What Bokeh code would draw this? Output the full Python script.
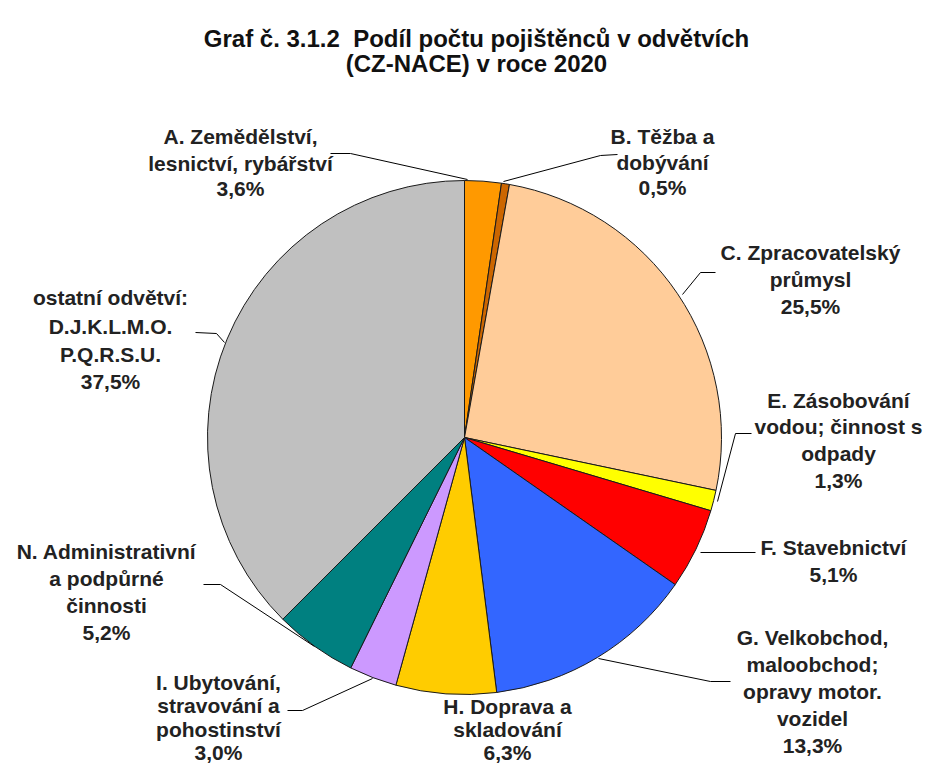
import math
from bokeh.plotting import figure
from bokeh.models import Range1d, ColumnDataSource
from bokeh.embed import file_html
from bokeh.resources import INLINE
from bokeh.core.properties import value

# ---------------- data ----------------
title_lines = ["Graf č. 3.1.2\u00a0\u00a0Podíl počtu pojištěnců v odvětvích",
               "(CZ-NACE) v roce 2020"]

categories = ["A", "B", "C", "E", "F", "G", "H", "I", "N", "ostatní"]
# slice sizes as drawn in the picture (A is drawn at ~2.3 % although labelled 3,6 %)
shares = [2.3, 0.5, 25.5, 1.3, 5.1, 13.3, 6.3, 3.0, 5.2, 37.5]
share_labels = ["3,6%", "0,5%", "25,5%", "1,3%", "5,1%", "13,3%", "6,3%", "3,0%", "5,2%", "37,5%"]
name_lines = [
    ["A. Zemědělství,", "lesnictví, rybářství"],
    ["B. Těžba a", "dobývání"],
    ["C. Zpracovatelský", "průmysl"],
    ["E. Zásobování", "vodou; činnost s", "odpady"],
    ["F. Stavebnictví"],
    ["G. Velkobchod,", "maloobchod;", "opravy motor.", "vozidel"],
    ["H. Doprava a", "skladování"],
    ["I. Ubytování,", "stravování a", "pohostinství"],
    ["N. Administrativní", "a podpůrné", "činnosti"],
    ["ostatní odvětví:", "D.J.K.L.M.O.", "P.Q.R.S.U."],
]
colors = ["#FF9900", "#CC6600", "#FFCC99", "#FFFF00", "#FF0000",
          "#3366FF", "#FFCC00", "#CC99FF", "#008080", "#C0C0C0"]

# ---------------- layout (picture pixel coordinates) ----------------
W, H = 927, 766
DY = -6  # shift of the pie block so the bottom labels stay inside
def Y(py):
    return H - py

CX, CY, R = 464, 443 + DY, 257
label_x = [240, 662, 810, 838, 833, 812, 507, 218, 106, 110]
label_base = [
    [142, 169, 194],
    [142, 168, 193],
    [258, 285, 312],
    [406, 432, 459, 486],
    [553, 580],
    [643, 670, 697, 724, 751],
    [712, 735, 758],
    [688, 711, 735, 758],
    [557, 584, 611, 638],
    [303, 332, 360, 387],
]
leaders = [
    [(330, 159), (350, 159), (467, 185)],
    [(617, 160), (600, 161), (503, 187)],
    [(715, 278), (700, 278), (682, 300)],
    [(751, 439), (735, 439), (717, 507)],
    [(755, 558), (700, 558)],
    [(730, 687), (710, 687), (598, 664)],
    None,
    [(287, 716), (302, 716), (372, 684)],
    [(203, 590), (220, 590), (314, 652)],
    [(195, 338), (216, 339), (224, 348)],
]

p = figure(width=W, height=H, output_backend="svg", toolbar_location=None,
           x_range=Range1d(0, W), y_range=Range1d(0, H),
           min_border=0, outline_line_color=None)
p.axis.visible = False
p.grid.visible = False
p.background_fill_color = "white"
p.border_fill_color = "white"

# wedges
total = sum(shares)
starts, ends = [], []
cum = 0.0
for s in shares:
    a0 = math.pi / 2 - 2 * math.pi * cum / total
    cum += s
    a1 = math.pi / 2 - 2 * math.pi * cum / total
    starts.append(a0)
    ends.append(a1)
src = ColumnDataSource(dict(cat=categories, start=starts, end=ends, color=colors,
                            x=[CX] * len(shares), y=[Y(CY)] * len(shares)))
p.wedge(x="x", y="y", radius=R, start_angle="start", end_angle="end",
        direction="clock", fill_color="color", line_color="#1a1a1a",
        line_width=1, source=src)

# leader lines
for ld in leaders:
    if ld is None:
        continue
    p.line([q[0] for q in ld], [Y(q[1] + DY) for q in ld], line_color="black", line_width=1)

# labels
tx, ty, tt = [], [], []
for i in range(len(categories)):
    lines = name_lines[i] + [share_labels[i]]
    for j, ln in enumerate(lines):
        tx.append(label_x[i])
        ty.append(Y(label_base[i][j] + DY))
        tt.append(ln)
p.text(x=tx, y=ty, text=tt, text_font=value("Liberation Sans"), text_font_style="bold",
       text_font_size="21px", text_align="center", text_baseline="alphabetic",
       text_color="#222222")

# title
p.text(x=[476, 476], y=[Y(38), Y(63)], text=title_lines, text_font=value("Liberation Sans"),
       text_font_style="bold", text_font_size="24px", text_align="center",
       text_baseline="alphabetic", text_color="#111111")

open("out.html", "w").write(file_html(p, INLINE))
